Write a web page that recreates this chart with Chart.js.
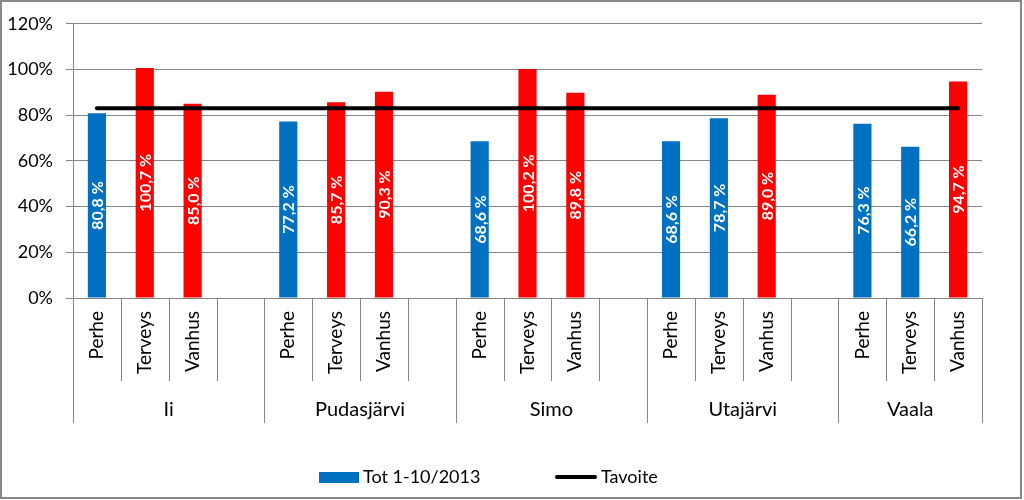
<!DOCTYPE html>
<html>
<head>
<meta charset="utf-8">
<script src="https://cdn.jsdelivr.net/npm/chart.js@4.4.1/dist/chart.umd.min.js"></script>
<style>
  body { margin: 0; background: #fff; }
  canvas { display: block; }
</style>
</head>
<body>
<canvas id="chart" width="1024" height="500"></canvas>
<script>
const groups = ["Ii", "Pudasjärvi", "Simo", "Utajärvi", "Vaala"];
const units = ["Perhe", "Terveys", "Vanhus"];
// Tot 1-10/2013, three values per group (Perhe, Terveys, Vanhus)
const totValues = [
  80.8, 100.7, 85.0,
  77.2, 85.7, 90.3,
  68.6, 100.2, 89.8,
  68.6, 78.7, 89.0,
  76.3, 66.2, 94.7
];
const target = 83;
const yTicks = [0, 20, 40, 60, 80, 100, 120];

const BLUE = "#0070C0";
const RED = "#FF0000";
const GRID = "#868686";
const FONT = "Lato, 'Open Sans', sans-serif";

// one empty slot between groups, none after the last one
const labels = [];
const barData = [];
const groupOf = [];
groups.forEach((g, gi) => {
  units.forEach((u, ui) => {
    labels.push(u);
    barData.push(totValues[gi * units.length + ui]);
    groupOf.push(gi);
  });
  if (gi < groups.length - 1) {
    labels.push("");
    barData.push(null);
    groupOf.push(gi);
  }
});
const lineData = labels.map(() => target);
const barColors = barData.map((v) => (v !== null && v < target ? BLUE : RED));

const fmt = (v) => v.toFixed(1).replace(".", ",") + " %";

const decorations = {
  id: "decorations",
  afterDatasetsDraw(chart) {
    const ctx = chart.ctx;
    const meta = chart.getDatasetMeta(1);
    ctx.save();
    ctx.fillStyle = "#fff";
    ctx.font = "bold 16px " + FONT;
    ctx.textAlign = "center";
    ctx.textBaseline = "middle";
    meta.data.forEach((bar, i) => {
      const v = barData[i];
      if (v === null) return;
      const cy = (bar.y + bar.base) / 2;
      ctx.save();
      ctx.translate(bar.x, cy);
      ctx.rotate(-Math.PI / 2);
      ctx.fillText(fmt(v), 0, 1);
      ctx.restore();
    });
    ctx.restore();
  },
  afterDraw(chart) {
    const ctx = chart.ctx;
    const x = chart.scales.x;
    const area = chart.chartArea;
    const slot = (area.right - area.left) / labels.length;
    const rowEnd = 381;
    const groupEnd = 423;

    ctx.save();
    ctx.strokeStyle = GRID;
    ctx.lineWidth = 1;

    // slot separators and group separators
    for (let i = 0; i <= labels.length; i++) {
      const px = Math.round(area.left + i * slot) + 0.5;
      const isGroupEdge = i === 0 || i === labels.length || groupOf[i] !== groupOf[i - 1];
      ctx.beginPath();
      ctx.moveTo(px, area.bottom);
      ctx.lineTo(px, isGroupEdge ? groupEnd : rowEnd);
      ctx.stroke();
    }

    // category labels, rotated
    ctx.fillStyle = "#000";
    ctx.font = "19px " + FONT;
    ctx.textAlign = "right";
    ctx.textBaseline = "middle";
    labels.forEach((lab, i) => {
      if (!lab) return;
      ctx.save();
      ctx.translate(x.getPixelForValue(i), 311);
      ctx.rotate(-Math.PI / 2);
      ctx.fillText(lab, 0, 0);
      ctx.restore();
    });

    // group labels, centred under their slots
    ctx.font = "20px " + FONT;
    ctx.textAlign = "center";
    ctx.textBaseline = "alphabetic";
    groups.forEach((g, gi) => {
      const idx = groupOf.map((v, i) => (v === gi ? i : -1)).filter((i) => i >= 0);
      const start = area.left + idx[0] * slot;
      const end = area.left + (idx[0] + idx.length) * slot;
      ctx.fillText(g, (start + end) / 2, 416);
    });

    // legend
    ctx.font = "18px " + FONT;
    ctx.textAlign = "left";
    ctx.textBaseline = "middle";
    ctx.fillStyle = BLUE;
    ctx.fillRect(319, 472, 40, 11);
    ctx.fillStyle = "#000";
    ctx.fillText(chart.data.datasets[1].label, 363, 477);
    ctx.strokeStyle = "#000";
    ctx.lineWidth = 4;
    ctx.lineCap = "round";
    ctx.beginPath();
    ctx.moveTo(557, 477);
    ctx.lineTo(595, 477);
    ctx.stroke();
    ctx.fillText(chart.data.datasets[0].label, 601, 477);

    // outer frame
    ctx.strokeStyle = "#898989";
    ctx.lineWidth = 2;
    ctx.lineCap = "butt";
    ctx.strokeRect(1, 1, 1020, 497);
    ctx.restore();
  }
};

new Chart(document.getElementById("chart"), {
  type: "bar",
  data: {
    labels,
    datasets: [
      {
        type: "line",
        label: "Tavoite",
        data: lineData,
        borderColor: "#000",
        borderWidth: 4,
        borderCapStyle: "round",
        pointRadius: 0,
        fill: false,
        order: 0
      },
      {
        label: "Tot 1-10/2013",
        data: barData,
        backgroundColor: barColors,
        categoryPercentage: 1,
        barPercentage: 0.38,
        order: 1
      }
    ]
  },
  options: {
    responsive: false,
    animation: false,
    devicePixelRatio: 1,
    layout: { padding: { left: 0, right: 42, top: 21, bottom: 202 } },
    plugins: { legend: { display: false }, tooltip: { enabled: false } },
    scales: {
      x: { display: false, offset: true },
      y: {
        min: 0,
        max: 120,
        afterBuildTicks: (s) => { s.ticks = yTicks.map((v) => ({ value: v })); },
        afterFit: (s) => { s.width = 73; },
        ticks: {
          callback: (v) => v + "%",
          color: "#000",
          padding: 13,
          font: { family: FONT, size: 18 }
        },
        grid: { color: GRID, tickLength: 7 },
        border: { color: GRID }
      }
    }
  },
  plugins: [decorations]
});
</script>
</body>
</html>
